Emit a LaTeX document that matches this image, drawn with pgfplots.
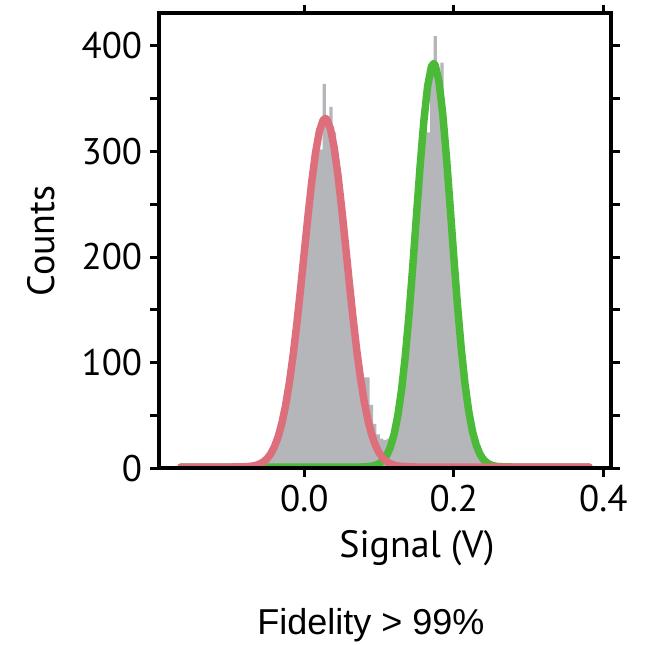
\documentclass[border=0pt]{standalone}
\usepackage{fontspec}
\setmainfont{PT Sans}
\newfontfamily\arialfont{Liberation Sans}
\usepackage{pgfplots}
\usepackage{pgfplotstable}
\pgfplotsset{compat=1.18}

\definecolor{histgray}{RGB}{181,182,186}
\definecolor{fitred}{RGB}{221,111,124}
\definecolor{fitgreen}{RGB}{75,186,56}

% histogram of the measured signal (bin centre, counts)
\pgfplotstableread{
x count
-0.1128 4
-0.1038 1
-0.0903 1
-0.0813 1
-0.0768 1
-0.0723 5
-0.0678 2
-0.0633 3
-0.0588 5
-0.0543 6
-0.0498 9
-0.0453 12
-0.0408 17
-0.0363 24
-0.0318 34
-0.0273 47
-0.0228 64
-0.0183 85
-0.0138 108
-0.0093 137
-0.0048 165
-0.0003 196
0.0042 228
0.0087 258
0.0132 284
0.0177 295
0.0222 302
0.0267 364
0.0312 325
0.0357 342
0.0402 318
0.0447 275
0.0492 248
0.0537 218
0.0582 190
0.0627 160
0.0672 132
0.0717 106
0.0762 95
0.0807 86
0.0852 86
0.0897 60
0.0942 42
0.0987 32
0.1032 28
0.1077 27
0.1122 28
0.1167 30
0.1212 40
0.1257 55
0.1302 76
0.1347 102
0.1392 135
0.1437 172
0.1482 214
0.1527 258
0.1572 300
0.1617 320
0.1662 318
0.1707 378
0.1752 409
0.1797 365
0.1842 384
0.1887 300
0.1932 262
0.1977 220
0.2022 178
0.2067 140
0.2112 108
0.2157 80
0.2202 58
0.2247 40
0.2292 28
0.2337 22
0.2382 14
0.2427 8
0.2472 5
0.2517 3
0.2562 1
0.2607 1
}\histdata

% Gaussian fit of the first peak
\pgfplotstableread{
x y
-0.165 1.2
-0.10 1.2
-0.09 1.3
-0.085 1.3
-0.08 1.5
-0.075 1.7
-0.07 2.1
-0.065 2.8
-0.06 4.0
-0.055 6.0
-0.05 9.0
-0.045 13.6
-0.04 20.4
-0.035 29.9
-0.03 42.8
-0.025 59.7
-0.02 81.1
-0.015 106.9
-0.01 136.9
-0.005 170.0
0 204.9
0.005 239.5
0.01 271.5
0.015 298.6
0.02 318.5
0.025 329.4
0.028 331.2
0.03 330.4
0.035 321.4
0.04 303.2
0.045 277.4
0.05 246.2
0.055 211.9
0.06 176.9
0.065 143.3
0.07 112.6
0.075 85.9
0.08 63.7
0.085 45.9
0.09 32.2
0.095 22.0
0.1 14.8
0.105 9.8
0.11 6.5
0.115 4.3
0.12 3.0
0.125 2.2
0.13 1.8
0.14 1.4
0.15 1.2
0.381 1.2
}\fitA

% Gaussian fit of the second peak
\pgfplotstableread{
x y
-0.165 1.2
0.075 1.2
0.08 1.4
0.085 1.6
0.09 2.0
0.095 2.8
0.1 4.4
0.105 7.2
0.11 12.0
0.115 19.8
0.12 31.9
0.125 49.5
0.13 73.8
0.135 105.7
0.14 144.9
0.145 190.2
0.15 238.8
0.155 286.8
0.16 329.4
0.165 361.9
0.17 380.1
0.173 383.2
0.175 381.8
0.18 366.8
0.185 336.9
0.19 295.9
0.195 248.6
0.2 199.7
0.205 153.5
0.21 113.0
0.215 79.6
0.22 53.8
0.225 34.9
0.23 21.9
0.235 13.3
0.24 8.0
0.245 4.8
0.25 3.1
0.255 2.1
0.26 1.6
0.27 1.3
0.28 1.2
0.381 1.2
}\fitB

\begin{document}
\begin{tikzpicture}
\useasboundingbox (-158.8pt,-176.7pt) rectangle (497.2pt,468.3pt);
\begin{axis}[
  at={(0,0)}, anchor=south west,
  scale only axis, width=452.2pt, height=455pt,
  xmin=-0.1947, xmax=0.4103, ymin=0, ymax=430.7,
  axis on top,
  axis line style={line width=3.8pt, line cap=rect},
  tick align=outside,
  major tick length=8.5pt, minor tick length=8.5pt,
  every tick/.style={black, line width=3pt},
  xtick={0,0.2,0.4}, xticklabels={0.0,0.2,0.4},
  ytick={0,100,200,300,400}, yticklabels={0,100,200,300,400},
  minor ytick={50,150,250,350},
  tick label style={font=\fontsize{37}{40}\selectfont},
  yticklabel style={inner sep=0pt, anchor=east, xshift=-8pt},
  xticklabel style={inner sep=0pt, anchor=north, yshift=-8pt},
  label style={font=\fontsize{38}{40}\selectfont},
  xlabel={Signal (V)},
  ylabel={Counts},
  xlabel style={at={(axis description cs:0.571,0)}, anchor=center, yshift=-80pt},
  ylabel style={at={(axis description cs:-0.2605,0.5)}, anchor=center, rotate=0},
]
\addplot[ybar, bar width=0.0045, bar shift=0pt, fill=histgray, draw=none]
  table[x=x, y=count] {\histdata};
\addplot[fitgreen, line width=7.5pt, line join=round, line cap=round]
  table[x=x, y=y] {\fitB};
\addplot[fitred, line width=7.5pt, line join=round, line cap=round]
  table[x=x, y=y] {\fitA};
\end{axis}
\node[font=\arialfont\fontsize{36}{40}\selectfont, anchor=center] at (212.2pt,-156.7pt) {Fidelity > 99\%};
\end{tikzpicture}
\end{document}
